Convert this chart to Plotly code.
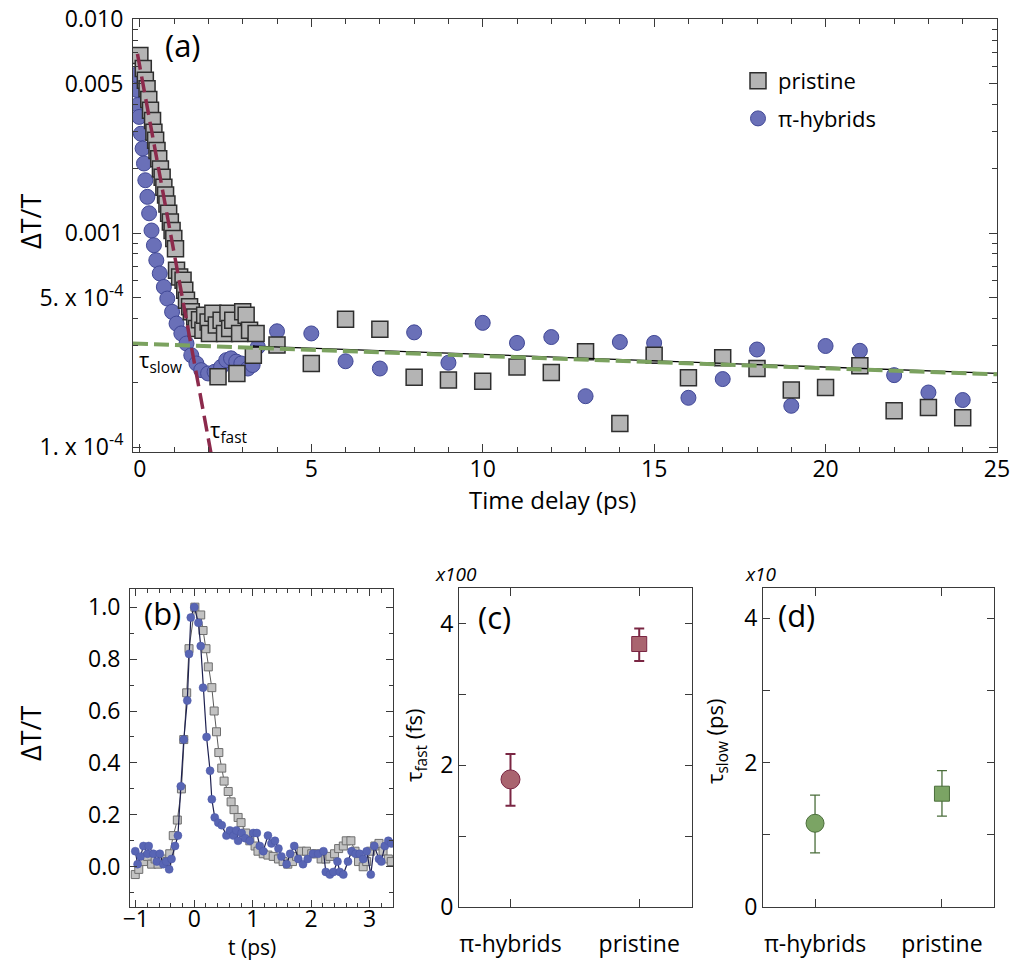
import plotly.graph_objects as go

# ---------------- Panel (a) data ----------------
pristine_t = [0.00, 0.10, 0.16, 0.21, 0.26, 0.31, 0.37, 0.41, 0.46, 0.50, 0.55, 0.60, 0.65, 0.70,
              0.75, 0.79, 0.84, 0.89, 0.94, 0.99, 1.04, 1.07, 1.16, 1.26, 1.31, 1.36, 1.45, 1.50,
              1.60, 1.65, 1.74, 1.84, 1.89, 1.99, 2.03, 2.13, 2.23, 2.28, 2.37, 2.47, 2.57, 2.62,
              2.71, 2.83, 2.91, 3.00, 3.10, 3.20, 3.31, 3.39,
              4, 5, 6, 7, 8, 9, 10, 11, 12, 13, 14, 15, 16, 17, 18, 19, 20, 21, 22, 23, 24]
pristine_dtt = [6.79e-3, 5.89e-3, 5.19e-3, 4.74e-3, 4.22e-3, 3.76e-3, 3.37e-3, 2.97e-3, 2.72e-3,
                2.44e-3, 2.23e-3, 2.00e-3, 1.83e-3, 1.64e-3, 1.51e-3, 1.37e-3, 1.24e-3, 1.13e-3,
                1.03e-3, 9.44e-4, 8.47e-4, 6.71e-4, 6.25e-4, 6.03e-4, 5.42e-4, 4.86e-4, 4.53e-4,
                4.29e-4, 4.06e-4, 3.59e-4, 3.94e-4, 3.52e-4, 4.14e-4, 3.85e-4, 3.40e-4, 4.22e-4,
                3.72e-4, 2.13e-4, 3.92e-4, 3.40e-4, 4.22e-4, 3.59e-4, 3.92e-4, 2.21e-4, 3.40e-4,
                4.29e-4, 4.14e-4, 3.52e-4, 2.69e-4, 3.40e-4,
                3.00e-4, 2.46e-4, 3.96e-4, 3.56e-4, 2.12e-4, 2.06e-4, 2.03e-4, 2.37e-4, 2.23e-4,
                2.79e-4, 1.29e-4, 2.69e-4, 2.11e-4, 2.62e-4, 2.33e-4, 1.85e-4, 1.90e-4, 2.40e-4,
                1.48e-4, 1.53e-4, 1.37e-4]

hybrid_t = [-0.12, -0.09, -0.06, -0.02, 0.03, 0.08, 0.12, 0.16, 0.22, 0.27, 0.34, 0.41, 0.48,
            0.58, 0.70, 0.80, 0.94, 1.07, 1.21, 1.36, 1.50, 1.65, 1.79, 1.99, 2.18, 2.37, 2.52,
            2.66, 2.81, 2.96, 3.15, 3.29, 3.44,
            4, 5, 6, 7, 8, 9, 10, 11, 12, 13, 14, 15, 16, 17, 18, 19, 20, 21, 22, 23, 24]
hybrid_dtt = [5.50e-3, 4.68e-3, 3.98e-3, 3.50e-3, 2.92e-3, 2.49e-3, 2.12e-3, 1.77e-3, 1.48e-3,
              1.24e-3, 1.03e-3, 8.79e-4, 7.48e-4, 6.49e-4, 5.61e-4, 4.95e-4, 4.29e-4, 3.78e-4,
              3.40e-4, 3.05e-4, 2.69e-4, 2.46e-4, 2.29e-4, 2.21e-4, 2.25e-4, 2.37e-4, 2.55e-4,
              2.60e-4, 2.51e-4, 2.46e-4, 2.33e-4, 2.42e-4, 2.94e-4,
              3.48e-4, 3.40e-4, 2.52e-4, 2.33e-4, 3.44e-4, 2.48e-4, 3.81e-4, 3.07e-4, 3.27e-4,
              1.73e-4, 3.10e-4, 3.07e-4, 1.70e-4, 2.08e-4, 2.86e-4, 1.56e-4, 2.97e-4, 2.82e-4,
              2.17e-4, 1.80e-4, 1.66e-4]

fast_fit_t = [-0.07, 2.10]
fast_fit_v = [6.9e-3, 8.9e-5]
slow_fit_t = [-0.2, 25.0]
slow_fit_v = [3.05e-4, 2.19e-4]
slow_fit_black_t = [3.3, 25.0]
slow_fit_black_v = [2.97e-4, 2.21e-4]

a_ytickvals = [0.01, 0.005, 0.001, 5e-4, 1e-4]
a_yticktext = ["0.010", "0.005", "0.001", "5. x 10<sup>-4</sup>", "1. x 10<sup>-4</sup>"]
a_yminor = [2e-4, 3e-4, 4e-4, 6e-4, 7e-4, 8e-4, 9e-4, 2e-3, 3e-3, 4e-3, 6e-3, 7e-3, 8e-3, 9e-3]

# ---------------- Panel (b) data ----------------
b_pristine_t = [-1.01, -0.95, -0.87, -0.80, -0.73, -0.67, -0.62, -0.53, -0.47, -0.42, -0.36, -0.29,
                -0.22, -0.18, -0.13, -0.09, 0.01, 0.11, 0.15, 0.20, 0.24, 0.30, 0.34, 0.38, 0.42,
                0.47, 0.51, 0.58, 0.63, 0.68, 0.75, 0.80, 0.88, 0.95, 1.04, 1.09, 1.18, 1.26, 1.35,
                1.44, 1.52, 1.60, 1.68, 1.75, 1.83, 1.92, 2.01, 2.09, 2.17, 2.25, 2.32, 2.40, 2.47,
                2.55, 2.60, 2.68, 2.75, 2.81, 2.89, 2.95, 3.02, 3.09, 3.16, 3.23, 3.32, 3.37]
b_pristine_v = [-0.03, -0.01, 0.02, 0.04, 0.01, 0.03, 0.01, 0.03, 0.02, 0.05, 0.12, 0.18,
                0.30, 0.49, 0.67, 0.84, 1.00, 0.97, 0.91, 0.84, 0.77, 0.69, 0.60, 0.52, 0.44,
                0.38, 0.33, 0.29, 0.25, 0.22, 0.19, 0.17, 0.13, 0.10, 0.08, 0.06, 0.05, 0.045, 0.04,
                0.03, 0.02, 0.01, 0.02, 0.04, 0.06, 0.06, 0.05, 0.05, 0.03, 0.03, 0.04, 0.05, 0.07,
                0.08, 0.10, 0.10, 0.06, 0.02, 0.00, 0.02, 0.06, 0.08, 0.09, 0.06, 0.03, 0.02]

b_hybrid_t = [-1.01, -0.97, -0.92, -0.87, -0.80, -0.78, -0.70, -0.64, -0.59, -0.53, -0.48, -0.43,
              -0.39, -0.33, -0.28, -0.23, -0.18, -0.12, -0.09, -0.06, 0.00, 0.07, 0.11, 0.15, 0.21,
              0.27, 0.30, 0.35, 0.41, 0.47, 0.55, 0.61, 0.67, 0.72, 0.75, 0.81, 0.87, 0.95, 1.01,
              1.07, 1.12, 1.18, 1.26, 1.32, 1.38, 1.44, 1.49, 1.58, 1.64, 1.71, 1.78, 1.86, 1.94,
              2.03, 2.12, 2.21, 2.25, 2.32, 2.38, 2.45, 2.49, 2.55, 2.63, 2.69, 2.76, 2.83, 2.89,
              2.95, 3.02, 3.08, 3.16, 3.20, 3.26, 3.32, 3.37]
b_hybrid_v = [0.06, 0.01, 0.04, 0.08, 0.05, 0.08, 0.05, 0.02, 0.05, 0.01, 0.02, -0.01,
              0.03, 0.08, 0.12, 0.31, 0.49, 0.64, 0.82, 0.96, 1.00, 0.94, 0.85, 0.69, 0.50,
              0.37, 0.26, 0.19, 0.17, 0.16, 0.12, 0.14, 0.12, 0.14, 0.10, 0.13, 0.11, 0.10, 0.13,
              0.13, 0.08, 0.06, 0.12, 0.09, 0.10, 0.07, 0.04, 0.01, 0.05, 0.08, 0.03, 0.01, 0.03,
              0.05, 0.05, 0.06, -0.02, -0.03, -0.02, 0.02, -0.02, -0.03, 0.02, 0.06, 0.05, 0.05, 0.03,
              0.06, -0.03, 0.08, 0.03, 0.02, 0.08, 0.10, 0.09]

# ---------------- Panels (c), (d) data ----------------
samples = ["π-hybrids", "pristine"]
tau_fast = [1.80, 3.71]          # x100 fs
tau_fast_err_plus = [0.36, 0.22]
tau_fast_err_minus = [0.37, 0.24]
tau_slow = [1.16, 1.57]          # x10 ps
tau_slow_err_plus = [0.39, 0.32]
tau_slow_err_minus = [0.41, 0.31]

FONT = "Open Sans"
W, H = 1016, 963


def px(x):
    return x / W


def py(y):
    return 1 - y / H


SQ_FILL = "#b4b4b4"
SQ_LINE = "#2e2e2e"
CI_FILL = "#6a70b8"
CI_LINE = "#414896"
RED = "#8c2a4c"
GREEN = "#7ba25f"
AXC = "#3a3a3a"

fig = go.Figure()

# Panel (a)
fig.add_trace(go.Scatter(x=hybrid_t, y=hybrid_dtt, mode="markers", name="π-hybrids",
                         legendrank=2, legendgroup="h",
                         marker=dict(symbol="circle", size=15, color=CI_FILL,
                                     line=dict(color=CI_LINE, width=1)),
                         xaxis="x", yaxis="y"))
fig.add_trace(go.Scatter(x=pristine_t, y=pristine_dtt, mode="markers", name="pristine",
                         legendrank=1, legendgroup="p",
                         marker=dict(symbol="square", size=16, color=SQ_FILL,
                                     line=dict(color=SQ_LINE, width=1.5)),
                         xaxis="x", yaxis="y"))
fig.add_trace(go.Scatter(x=slow_fit_black_t, y=slow_fit_black_v, mode="lines", showlegend=False,
                         line=dict(color="black", width=1.3), xaxis="x", yaxis="y"))
fig.add_trace(go.Scatter(x=slow_fit_t, y=slow_fit_v, mode="lines", showlegend=False,
                         line=dict(color=GREEN, width=4, dash="15px,6px"), xaxis="x", yaxis="y"))
fig.add_trace(go.Scatter(x=fast_fit_t, y=fast_fit_v, mode="lines", showlegend=False,
                         line=dict(color=RED, width=3.5, dash="16px,7px"), xaxis="x", yaxis="y"))

# Panel (b)
fig.add_trace(go.Scatter(x=b_pristine_t, y=b_pristine_v, mode="lines+markers", showlegend=False,
                         line=dict(color="#5a5a5a", width=1),
                         marker=dict(symbol="square", size=8, color="#c2c2c2",
                                     line=dict(color="#6e6e6e", width=1)),
                         xaxis="x2", yaxis="y2"))
fig.add_trace(go.Scatter(x=b_hybrid_t, y=b_hybrid_v, mode="lines+markers", showlegend=False,
                         line=dict(color="#1d2050", width=1.2),
                         marker=dict(symbol="circle", size=8, color="#5865b4",
                                     line=dict(color="#4a56a6", width=0.5)),
                         xaxis="x2", yaxis="y2"))

# Panel (c)
C_FILL, C_LINE = "#a9646f", "#7a2643"
fig.add_trace(go.Scatter(x=samples[:1], y=tau_fast[:1], mode="markers", showlegend=False,
                         error_y=dict(type="data", array=tau_fast_err_plus[:1],
                                      arrayminus=tau_fast_err_minus[:1], color=C_LINE,
                                      thickness=2, width=5),
                         marker=dict(symbol="circle", size=19, color=C_FILL,
                                     line=dict(color=C_LINE, width=1)),
                         xaxis="x3", yaxis="y3"))
fig.add_trace(go.Scatter(x=samples[1:], y=tau_fast[1:], mode="markers", showlegend=False,
                         error_y=dict(type="data", array=tau_fast_err_plus[1:],
                                      arrayminus=tau_fast_err_minus[1:], color=C_LINE,
                                      thickness=2, width=5),
                         marker=dict(symbol="square", size=15, color=C_FILL,
                                     line=dict(color=C_LINE, width=1)),
                         xaxis="x3", yaxis="y3"))

# Panel (d)
D_FILL, D_LINE = "#7ba464", "#4b6e3b"
fig.add_trace(go.Scatter(x=samples[:1], y=tau_slow[:1], mode="markers", showlegend=False,
                         error_y=dict(type="data", array=tau_slow_err_plus[:1],
                                      arrayminus=tau_slow_err_minus[:1], color=D_LINE,
                                      thickness=1.3, width=5),
                         marker=dict(symbol="circle", size=18, color=D_FILL,
                                     line=dict(color=D_LINE, width=1)),
                         xaxis="x4", yaxis="y4"))
fig.add_trace(go.Scatter(x=samples[1:], y=tau_slow[1:], mode="markers", showlegend=False,
                         error_y=dict(type="data", array=tau_slow_err_plus[1:],
                                      arrayminus=tau_slow_err_minus[1:], color=D_LINE,
                                      thickness=1.3, width=5),
                         marker=dict(symbol="square", size=15, color=D_FILL,
                                     line=dict(color=D_LINE, width=1)),
                         xaxis="x4", yaxis="y4"))

axis_common = dict(showline=True, linecolor=AXC, linewidth=1, mirror="ticks", ticks="inside",
                   tickcolor=AXC, showgrid=False, zeroline=False, automargin=False,
                   tickfont=dict(family=FONT, size=23, color="black"))

fig.update_layout(
    width=W, height=H, margin=dict(l=0, r=0, t=0, b=0, pad=0, autoexpand=False),
    paper_bgcolor="white", plot_bgcolor="white",
    font=dict(family=FONT, color="black"),
    xaxis=dict(domain=[px(133), px(997)], range=[-0.2, 25], anchor="y",
               tickvals=[0, 5, 10, 15, 20, 25], ticklen=8, ticklabelstandoff=-4,
               minor=dict(dtick=1, tick0=0, ticks="inside", ticklen=5, tickcolor=AXC),
               **axis_common),
    yaxis=dict(domain=[py(452), py(19)], type="log", range=[-4.023, -1.998], anchor="x",
               tickvals=a_ytickvals, ticktext=a_yticktext, ticklen=8, ticklabelstandoff=4,
               minor=dict(tickvals=a_yminor, ticks="inside", ticklen=5, tickcolor=AXC),
               **axis_common),
    xaxis2=dict(domain=[px(130), px(393)], range=[-1.1, 3.4], anchor="y2",
                tickvals=[-1, 0, 1, 2, 3], ticklen=7, ticklabelstandoff=-9,
                minor=dict(dtick=0.2, tick0=0, ticks="inside", ticklen=4, tickcolor=AXC),
                **axis_common),
    yaxis2=dict(domain=[py(907), py(589)], range=[-0.155, 1.07], anchor="x2",
                tickvals=[0, 0.2, 0.4, 0.6, 0.8, 1.0], tickformat=".1f", ticklen=7,
                ticklabelstandoff=4,
                minor=dict(dtick=0.1, tick0=0, ticks="inside", ticklen=4, tickcolor=AXC),
                **axis_common),
    xaxis3=dict(domain=[px(459), px(692)], range=[-0.4, 1.41], anchor="y3", type="category",
                ticklen=8, ticklabelstandoff=16, **axis_common),
    yaxis3=dict(domain=[py(907), py(588)], range=[0, 4.5], anchor="x3",
                tickvals=[0, 2, 4], ticklen=7,
                minor=dict(dtick=1, tick0=0, ticks="inside", ticklen=7, tickcolor=AXC),
                **axis_common),
    xaxis4=dict(domain=[px(763), px(994)], range=[-0.41, 1.41], anchor="y4", type="category",
                ticklen=8, ticklabelstandoff=16, **axis_common),
    yaxis4=dict(domain=[py(907), py(588)], range=[0, 4.42], anchor="x4",
                tickvals=[0, 2, 4], ticklen=7,
                minor=dict(dtick=1, tick0=0, ticks="inside", ticklen=7, tickcolor=AXC),
                **axis_common),
    legend=dict(x=px(738), y=py(60), xanchor="left", yanchor="top",
                font=dict(family=FONT, size=22, color="black"),
                bgcolor="rgba(0,0,0,0)", tracegroupgap=6, itemwidth=30),
)

ann = [
    dict(text="(a)", x=px(183), y=py(45), font=dict(size=31)),
    dict(text="τ<sub>slow</sub>", x=px(160), y=py(361), font=dict(size=22)),
    dict(text="τ<sub>fast</sub>", x=px(228), y=py(431), font=dict(size=22)),
    dict(text="ΔT/T", x=px(30), y=py(222), font=dict(size=27), textangle=-90),
    dict(text="Time delay (ps)", x=px(552), y=py(499), font=dict(size=24)),
    dict(text="(b)", x=px(162), y=py(613), font=dict(size=31)),
    dict(text="ΔT/T", x=px(30), y=py(734), font=dict(size=27), textangle=-90),
    dict(text="t (ps)", x=px(252), y=py(947), font=dict(size=21)),
    dict(text="(c)", x=px(494), y=py(617), font=dict(size=31)),
    dict(text="τ<sub>fast</sub> (fs)", x=px(415), y=py(745), font=dict(size=22), textangle=-90),
    dict(text="<i>x100</i>", x=px(456), y=py(574), font=dict(size=19)),
    dict(text="(d)", x=px(796), y=py(615), font=dict(size=31)),
    dict(text="τ<sub>slow</sub> (ps)", x=px(716), y=py(742), font=dict(size=22), textangle=-90),
    dict(text="<i>x10</i>", x=px(761), y=py(574), font=dict(size=19)),
]
for a in ann:
    a.setdefault("xref", "paper")
    a.setdefault("yref", "paper")
    a.setdefault("showarrow", False)
    a.setdefault("xanchor", "center")
    a.setdefault("yanchor", "middle")
    a["font"] = dict(family=FONT, color="black", **a["font"])
fig.update_layout(annotations=ann)

fig.write_html("out.html", config={"displayModeBar": False},
               post_script="document.body.style.margin='0px';"
                           "document.body.style.overflow='hidden';")
